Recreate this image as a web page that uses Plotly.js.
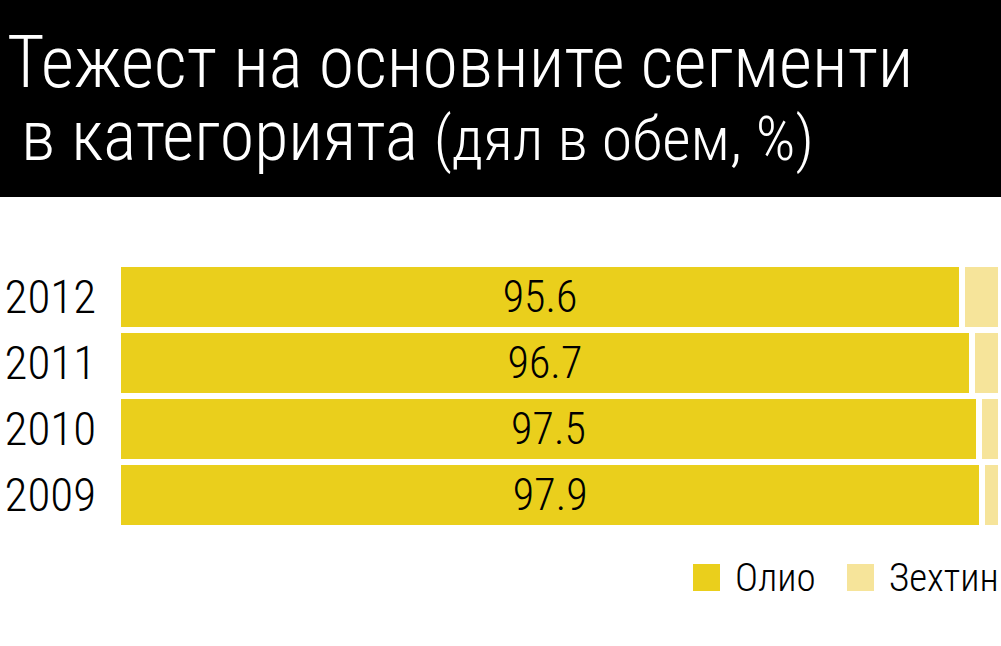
<!DOCTYPE html>
<html>
<head>
<meta charset="utf-8">
<script src="https://cdn.plot.ly/plotly-3.0.1.min.js"></script>
<style>
html,body{margin:0;padding:0;background:#fff;}
#chart{width:1001px;height:646px;}
</style>
</head>
<body>
<div id="chart"></div>
<script>
// ---- data ----
const years = ['2009', '2010', '2011', '2012'];
const olio = [97.9, 97.5, 96.7, 95.6];
const zehtin = [2.1, 2.5, 3.3, 4.4];
const seriesNames = ['Олио', 'Зехтин'];
const seriesColors = ['#EACF1C', '#F6E49A'];
const titleLine1 = 'Тежест на основните сегменти';
const titleLine2 = 'в категорията';
const titleLine2Sub = '(дял в обем, %)';

const FONT = 'Roboto Condensed, DejaVu Sans Condensed, Liberation Sans Narrow, Roboto, sans-serif';

// geometry helpers (pixel -> paper) for decorations
const W = 1001, H = 646;
const M = {l: 118, r: 0, t: 264, b: 118};
const pw = W - M.l - M.r, ph = H - M.t - M.b;
const px = p => (p - M.l) / pw;
const py = p => (H - M.b - p) / ph;

const traces = [
  {
    type: 'bar', orientation: 'h', name: seriesNames[0],
    y: years, x: olio,
    text: olio.map(v => v.toFixed(1)),
    textposition: 'inside', insidetextanchor: 'middle',
    textfont: {family: FONT, size: 44, color: '#000', weight: 300},
    marker: {color: seriesColors[0], line: {color: '#fff', width: 6}},
    hoverinfo: 'x+y', showlegend: false
  },
  {
    type: 'bar', orientation: 'h', name: seriesNames[1],
    y: years, x: zehtin,
    textposition: 'none',
    marker: {color: seriesColors[1], line: {color: '#fff', width: 6}},
    hoverinfo: 'x+y', showlegend: false
  }
];

// custom legend (large swatches)
const legendSwatchX = [693, 847];
const legendShapes = seriesNames.map((n, i) => ({
  type: 'rect', xref: 'paper', yref: 'paper',
  x0: px(legendSwatchX[i]), x1: px(legendSwatchX[i] + 27),
  y0: py(591), y1: py(564),
  fillcolor: seriesColors[i], line: {width: 0}
}));
const legendAnn = seriesNames.map((n, i) => ({
  xref: 'paper', yref: 'paper',
  x: px(legendSwatchX[i] + 40), y: py(578),
  xanchor: 'left', yanchor: 'middle',
  text: n, showarrow: false,
  font: {family: FONT, size: 39, color: '#000', weight: 300}
}));

const layout = {
  width: W, height: H,
  margin: M,
  paper_bgcolor: '#fff', plot_bgcolor: '#fff',
  barmode: 'stack', bargap: 0,
  showlegend: false,
  xaxis: {range: [0, 100], visible: false, fixedrange: true},
  yaxis: {
    type: 'category', categoryorder: 'array', categoryarray: years,
    showgrid: false, zeroline: false, showline: false, ticks: '',
    ticklabelstandoff: 21,
    tickfont: {family: FONT, size: 47, color: '#000', weight: 300},
    fixedrange: true
  },
  shapes: [
    {type: 'rect', xref: 'paper', yref: 'paper', x0: px(0), x1: px(W), y0: py(197), y1: py(0),
     fillcolor: '#000', line: {width: 0}, layer: 'below'}
  ].concat(legendShapes),
  annotations: [
    {xref: 'paper', yref: 'paper', x: px(5), y: py(62), xanchor: 'left', yanchor: 'middle',
     text: titleLine1, showarrow: false, font: {family: FONT, size: 72, color: '#fff', weight: 300}},
    {xref: 'paper', yref: 'paper', x: px(19), y: py(136), xanchor: 'left', yanchor: 'middle',
     text: titleLine2 + ' <span style="font-size:62px">' + titleLine2Sub + '</span>', showarrow: false,
     font: {family: FONT, size: 70, color: '#fff', weight: 300}}
  ].concat(legendAnn)
};

Plotly.newPlot('chart', traces, layout, {displayModeBar: false, staticPlot: true});
</script>
</body>
</html>
